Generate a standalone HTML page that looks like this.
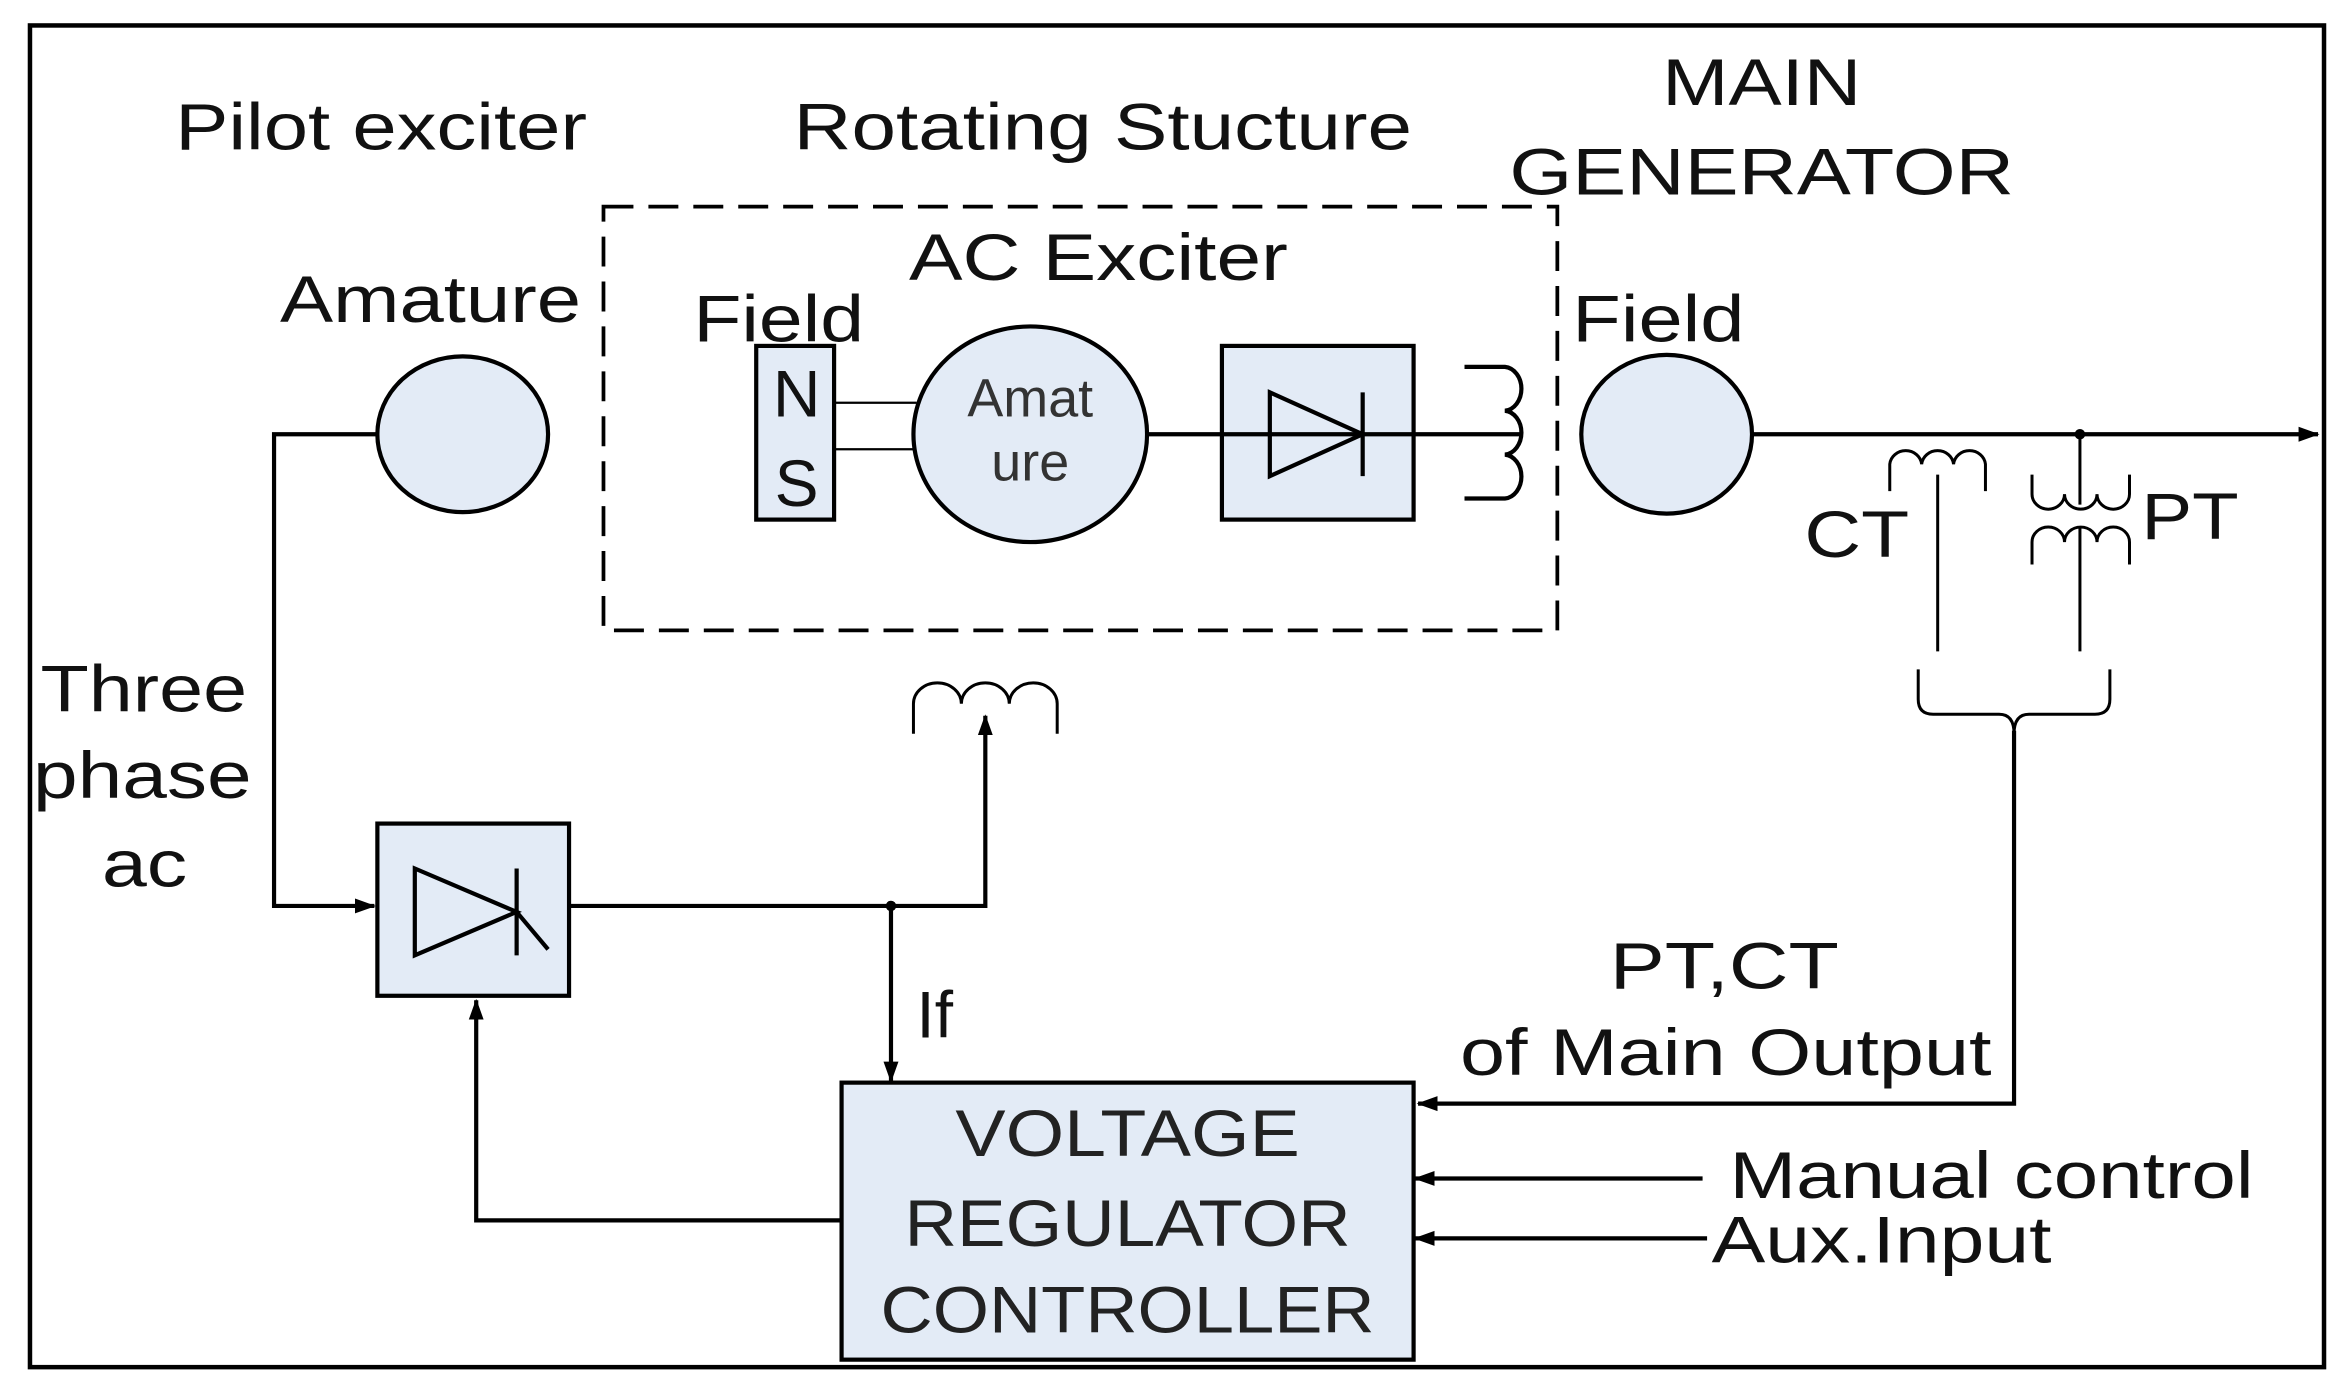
<!DOCTYPE html>
<html><head><meta charset="utf-8"><style>html,body{margin:0;padding:0;background:#fff}svg{display:block}</style></head>
<body>
<svg width="2348" height="1392" viewBox="0 0 1568 929.6" xmlns="http://www.w3.org/2000/svg" font-family="Liberation Sans, Arial, sans-serif">
<defs>
<marker id="ah" markerWidth="14" markerHeight="12" refX="13" refY="6" orient="auto" markerUnits="userSpaceOnUse">
<path d="M0,1 L14,6 L0,11 z" fill="#000"/></marker>
</defs>
<rect x="20" y="17" width="1532" height="896" fill="#fff" stroke="#000" stroke-width="3"/>
<g fill="#111" font-size="44">
<text x="117" y="100" textLength="275" lengthAdjust="spacingAndGlyphs">Pilot exciter</text>
<text x="530" y="100" textLength="413" lengthAdjust="spacingAndGlyphs">Rotating Stucture</text>
<text x="1110" y="70" textLength="133" lengthAdjust="spacingAndGlyphs">MAIN</text>
<text x="1008" y="130" textLength="337" lengthAdjust="spacingAndGlyphs">GENERATOR</text>
<text x="607" y="187" textLength="253" lengthAdjust="spacingAndGlyphs">AC Exciter</text>
<text x="187" y="215" textLength="201" lengthAdjust="spacingAndGlyphs">Amature</text>
<text x="463" y="228" textLength="114" lengthAdjust="spacingAndGlyphs">Field</text>
<text x="1050" y="228" textLength="115" lengthAdjust="spacingAndGlyphs">Field</text>
<text x="1205" y="372" textLength="70" lengthAdjust="spacingAndGlyphs">CT</text>
<text x="1430" y="360" textLength="65" lengthAdjust="spacingAndGlyphs">PT</text>
<text x="27" y="475" textLength="138" lengthAdjust="spacingAndGlyphs">Three</text>
<text x="22" y="533" textLength="146" lengthAdjust="spacingAndGlyphs">phase</text>
<text x="68" y="592" textLength="57" lengthAdjust="spacingAndGlyphs">ac</text>
<text x="612" y="693">If</text>
<text x="1075" y="660" textLength="153" lengthAdjust="spacingAndGlyphs">PT,CT</text>
<text x="975" y="718" textLength="355" lengthAdjust="spacingAndGlyphs">of Main Output</text>
<text x="1155" y="800" textLength="350" lengthAdjust="spacingAndGlyphs">Manual control</text>
<text x="1143" y="843" textLength="227" lengthAdjust="spacingAndGlyphs">Aux.Input</text>
</g>
<rect x="403" y="138" width="637" height="283" fill="none" stroke="#000" stroke-width="2.5" stroke-dasharray="20,10"/>
<g stroke="#000" stroke-width="2.8" fill="none">
<ellipse cx="309" cy="290" rx="57" ry="52" fill="#e3ebf6"/>
<path d="M252,290 H183 V605 H250" marker-end="url(#ah)"/>
<rect x="505" y="231" width="52" height="116" fill="#e3ebf6"/>
<line x1="557" y1="269" x2="612" y2="269" stroke-width="1.5"/>
<line x1="557" y1="300" x2="612" y2="300" stroke-width="1.5"/>
<ellipse cx="688" cy="290" rx="78" ry="72" fill="#e3ebf6"/>
<rect x="816" y="231" width="128" height="116" fill="#e3ebf6"/>
<line x1="766" y1="290" x2="1015" y2="290"/>
<polygon points="848,262 848,318 910,290"/>
<line x1="910" y1="262" x2="910" y2="318"/>
<path d="M978,245 H1005 a12,14.7 0 0 1 0,29.3 a12,14.7 0 0 1 0,29.3 a12,14.7 0 0 1 0,29.3 H978"/>
<ellipse cx="1113" cy="290" rx="57" ry="53" fill="#e3ebf6"/>
<line x1="1170" y1="290" x2="1548" y2="290" marker-end="url(#ah)"/>
<path d="M1262,328 V310 a10.7,10 0 0 1 21.3,0 a10.7,10 0 0 1 21.3,0 a10.7,10 0 0 1 21.3,0 V328" stroke-width="2"/>
<line x1="1294" y1="317" x2="1294" y2="435" stroke-width="2"/>
<line x1="1389" y1="290" x2="1389" y2="337" stroke-width="2"/>
<path d="M1357,317 V330 a10.8,10 0 0 0 21.7,0 a10.8,10 0 0 0 21.7,0 a10.8,10 0 0 0 21.7,0 V317" stroke-width="2"/>
<path d="M1357,377 V362 a10.8,10 0 0 1 21.7,0 a10.8,10 0 0 1 21.7,0 a10.8,10 0 0 1 21.7,0 V377" stroke-width="2"/>
<line x1="1389" y1="352" x2="1389" y2="435" stroke-width="2"/>
<path d="M1281,447 V467 q0,10 10,10 H1335 q10,0 10,13 q0,-13 10,-13 H1399 q10,0 10,-10 V447" stroke-width="2"/>
<path d="M1345,488 V737 H947" marker-end="url(#ah)"/>
<rect x="252" y="550" width="128" height="115" fill="#e3ebf6"/>
<polygon points="277,580 277,638 345,609"/>
<line x1="345" y1="580" x2="345" y2="638"/>
<line x1="345" y1="609" x2="366" y2="634"/>
<path d="M380,605 H658 V478" marker-end="url(#ah)"/>
<path d="M610,490 V470 a16,14 0 0 1 32,0 a16,14 0 0 1 32,0 a16,14 0 0 1 32,0 V490" stroke-width="2"/>
<line x1="595" y1="605" x2="595" y2="722" marker-end="url(#ah)"/>
<rect x="562" y="723" width="382" height="185" fill="#e3ebf6"/>
<path d="M562,815 H318 V668" marker-end="url(#ah)"/>
<line x1="1137" y1="787" x2="945" y2="787" marker-end="url(#ah)"/>
<line x1="1140" y1="827" x2="945" y2="827" marker-end="url(#ah)"/>
</g>
<circle cx="1389" cy="290" r="3.5" fill="#000"/>
<circle cx="595" cy="605" r="3.5" fill="#000"/>
<g font-size="44" fill="#111" text-anchor="middle">
<text x="532" y="278">N</text>
<text x="532" y="338">S</text>
</g>
<g font-size="36" fill="#333" text-anchor="middle">
<text x="688" y="278">Amat</text>
<text x="688" y="321">ure</text>
</g>
<g font-size="44" fill="#222" text-anchor="middle">
<text x="753" y="772" textLength="230" lengthAdjust="spacingAndGlyphs">VOLTAGE</text>
<text x="753" y="832" textLength="298" lengthAdjust="spacingAndGlyphs">REGULATOR</text>
<text x="753" y="890" textLength="330" lengthAdjust="spacingAndGlyphs">CONTROLLER</text>
</g>
</svg>
</body></html>
